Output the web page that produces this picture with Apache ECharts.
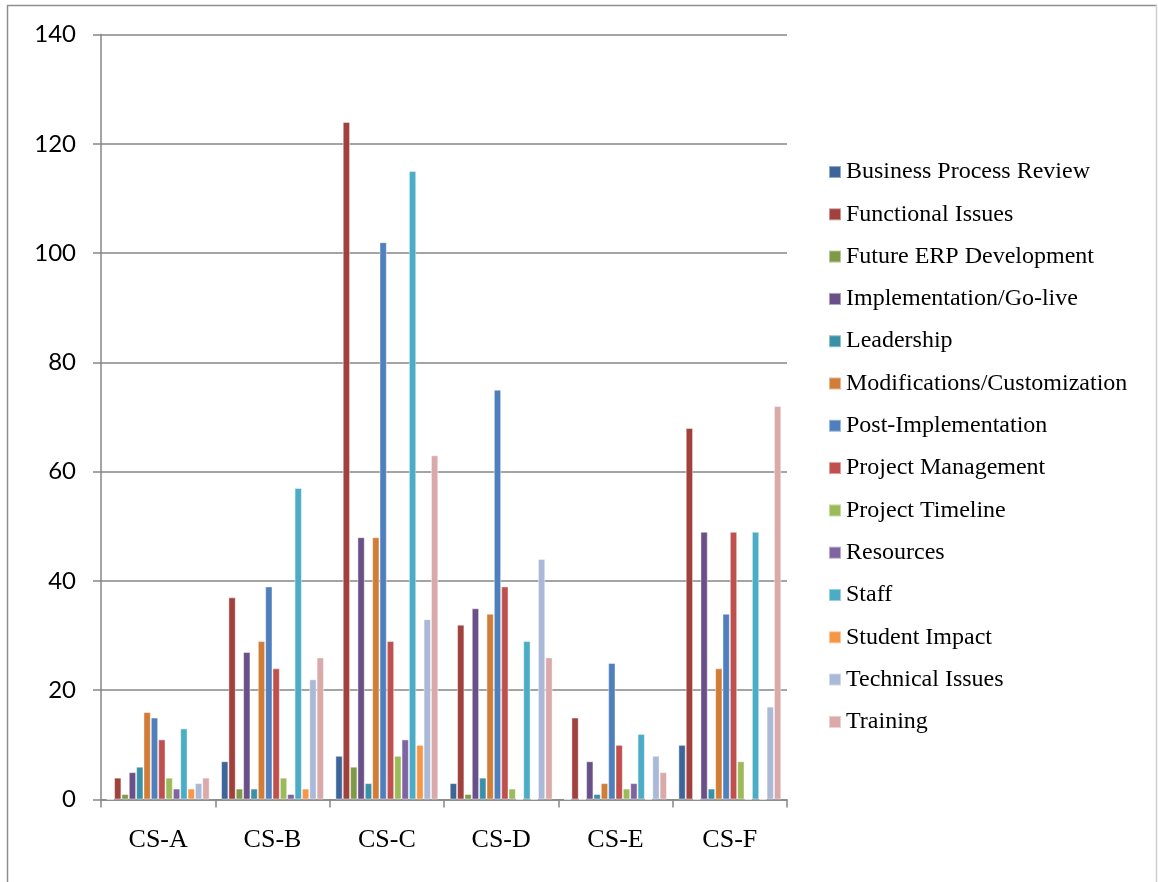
<!DOCTYPE html>
<html>
<head>
<meta charset="utf-8">
<script src="https://cdn.jsdelivr.net/npm/echarts@6/dist/echarts.min.js"></script>
<style>
html,body{margin:0;padding:0;background:#fff;}
#chart{width:1158px;height:882px;}
</style>
</head>
<body>
<div id="chart"></div>
<script>
const categories = ['CS-A', 'CS-B', 'CS-C', 'CS-D', 'CS-E', 'CS-F'];
const yTicks = [0, 20, 40, 60, 80, 100, 120, 140];

const businessProcessReview = [0, 7, 8, 3, 0, 10];
const functionalIssues = [4, 37, 124, 32, 15, 68];
const futureERPDevelopment = [1, 2, 6, 1, 0, 0];
const implementationGoLive = [5, 27, 48, 35, 7, 49];
const leadership = [6, 2, 3, 4, 1, 2];
const modificationsCustomization = [16, 29, 48, 34, 3, 24];
const postImplementation = [15, 39, 102, 75, 25, 34];
const projectManagement = [11, 24, 29, 39, 10, 49];
const projectTimeline = [4, 4, 8, 2, 2, 7];
const resources = [2, 1, 11, 0, 3, 0];
const staff = [13, 57, 115, 29, 12, 49];
const studentImpact = [2, 2, 10, 0, 0, 0];
const technicalIssues = [3, 22, 33, 44, 8, 17];
const training = [4, 26, 63, 26, 5, 72];

const seriesNames = ['Business Process Review', 'Functional Issues', 'Future ERP Development',
  'Implementation/Go-live', 'Leadership', 'Modifications/Customization', 'Post-Implementation',
  'Project Management', 'Project Timeline', 'Resources', 'Staff', 'Student Impact',
  'Technical Issues', 'Training'];
const seriesValues = [businessProcessReview, functionalIssues, futureERPDevelopment,
  implementationGoLive, leadership, modificationsCustomization, postImplementation,
  projectManagement, projectTimeline, resources, staff, studentImpact, technicalIssues, training];
const colors = ['#3D6599', '#A0413E', '#7E9A48', '#6A5088', '#3A90A6', '#D17D37', '#4F80BD',
  '#C0504D', '#9BBB59', '#8064A2', '#4BACC6', '#F79646', '#AAB9D7', '#DAA9A9'];

const chart = echarts.init(document.getElementById('chart'), null, {renderer: 'canvas'});
const axisGray = '#868686';

const option = {
  animation: false,
  backgroundColor: '#ffffff',
  color: colors,
  graphic: [
    {type: 'line', shape: {x1: 7.5, y1: 5, x2: 7.5, y2: 882}, style: {stroke: '#8f8f8f', lineWidth: 1.5}},
    {type: 'line', shape: {x1: 7, y1: 5.5, x2: 1157, y2: 5.5}, style: {stroke: '#8f8f8f', lineWidth: 1.5}},
    {type: 'line', shape: {x1: 1156.5, y1: 5, x2: 1156.5, y2: 882}, style: {stroke: '#cfcfcf', lineWidth: 1.5}}
  ],
  grid: {left: 101, top: 34.5, width: 686, height: 765, containLabel: false},
  legend: {
    orient: 'vertical',
    left: 828,
    top: 160,
    padding: 0,
    itemWidth: 12,
    itemHeight: 12,
    itemGap: 18.3,
    icon: 'rect',
    data: seriesNames,
    textStyle: {fontFamily: 'Liberation Serif', fontSize: 24, lineHeight: 24, color: '#000'}
  },
  xAxis: {
    type: 'category',
    data: categories,
    boundaryGap: true,
    axisLine: {show: true, lineStyle: {color: axisGray, width: 1.5}},
    axisTick: {show: true, length: 8, inside: false, lineStyle: {color: axisGray, width: 1.5}},
    axisLabel: {fontFamily: 'Liberation Serif', fontSize: 26, color: '#000', margin: 28},
    splitLine: {show: false}
  },
  yAxis: {
    type: 'value',
    min: yTicks[0],
    max: yTicks[yTicks.length - 1],
    interval: yTicks[1] - yTicks[0],
    axisLine: {show: true, lineStyle: {color: axisGray, width: 1.5}},
    axisTick: {show: true, length: 8, lineStyle: {color: axisGray, width: 1.5}},
    axisLabel: {fontFamily: 'Lato', fontSize: 24, color: '#000', margin: 25},
    splitLine: {show: true, lineStyle: {color: axisGray, width: 1.5}}
  },
  series: seriesNames.map((name, i) => ({
    name: name,
    type: 'bar',
    data: seriesValues[i],
    barGap: '0%',
    barCategoryGap: '10%',
    itemStyle: {color: colors[i], borderColor: 'rgba(255,255,255,0.45)', borderWidth: 1}
  }))
};
chart.setOption(option);
</script>
</body>
</html>
